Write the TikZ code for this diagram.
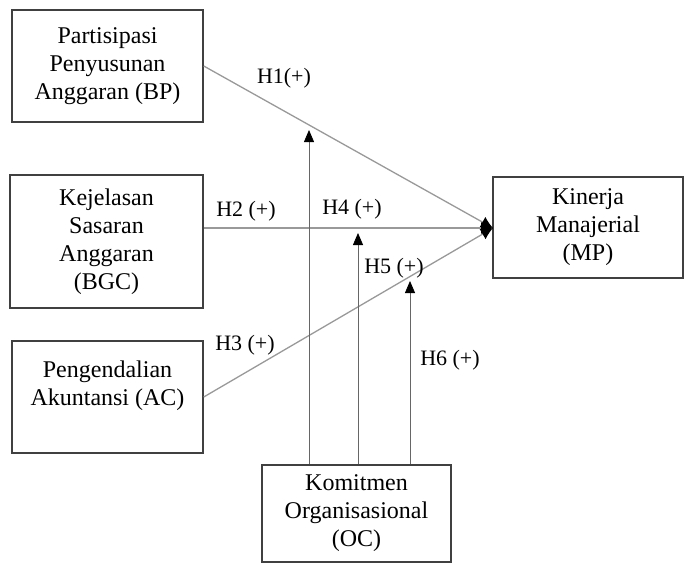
\documentclass[tikz,border=0pt]{standalone}
\usepackage{fontspec}
\setmainfont{Liberation Serif}
\usetikzlibrary{positioning, calc, arrows.meta}

\begin{document}
\begin{tikzpicture}[x=1pt, y=-1pt,
	box/.style={draw=black!75, line width=1.5pt, align=center, inner sep=0pt, font=\fontsize{24}{28}\selectfont},
	conn/.style={draw=black!40, line width=1.3pt, -{Latex[length=12pt, width=12pt, black]}},
	moder/.style={draw=black!60, line width=0.8pt, -{Triangle[length=12pt, width=10pt, black]}},
	hyp/.style={font=\fontsize{22}{24}\selectfont}]
	\useasboundingbox (0,0) rectangle (689,563);

	\node[box, minimum width=191pt, minimum height=112pt] (bp) at (107.5,66) {Partisipasi\\Penyusunan\\Anggaran (BP)};
	\node[box, minimum width=193pt, minimum height=133pt] (bgc) at (106.5,241.5) {Kejelasan\\Sasaran\\Anggaran\\(BGC)};
	\node[box, minimum width=191pt, minimum height=112pt] (ac) at (107.5,397) {Pengendalian\\Akuntansi (AC)\\ \mbox{}};
	\node[box, minimum width=190pt, minimum height=101pt] (mp) at (588,227.5) {Kinerja\\Manajerial\\(MP)};
	\node[box, minimum width=189pt, minimum height=97pt] (oc) at (356.5,513.5) {Komitmen\\Organisasional\\(OC)};

	\coordinate (hub) at (493,228);
	\coordinate (t1) at (309,130);
	\coordinate (t2) at (358,233);
	\coordinate (t3) at (410,281);

	\draw[conn] (bp.east) -- (hub);
	\draw[conn] (bgc.east |- hub) -- (hub);
	\draw[conn] (ac.east) -- (hub);

	\foreach \t in {t1, t2, t3}
	\draw[moder] (oc.north -| \t) -- (\t);

	\node[hyp] (h1) at (284,78) {H1(+)};
	\node[hyp] (h2) at (246,211) {H2 (+)};
	\node[hyp] (h3) at (245,345) {H3 (+)};
	\node[hyp] (h4) at (352,209) {H4 (+)};
	\node[hyp] (h5) at (394,268) {H5 (+)};
	\node[hyp] (h6) at (450,360) {H6 (+)};
\end{tikzpicture}
\end{document}
